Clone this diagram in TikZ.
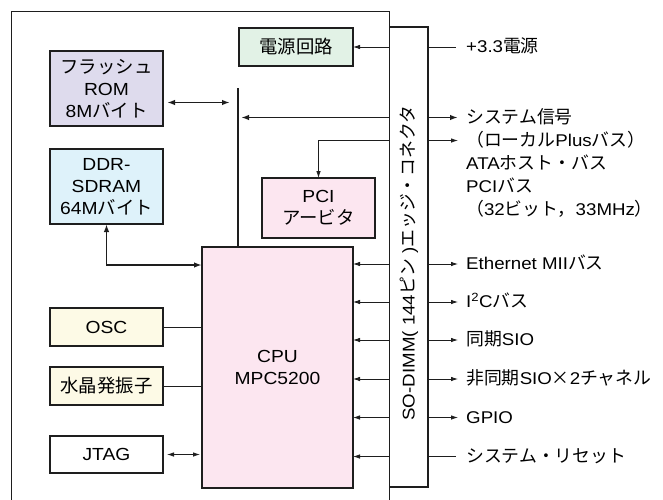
\documentclass[tikz,border=0pt]{standalone}
\usepackage{fontspec}
\setmainfont{Liberation Sans}[FakeStretch=1.1]
\newfontfamily\jp[Scale=1.05]{Noto Sans CJK JP}
\usetikzlibrary{arrows.meta}
\newcommand\J[1]{{\jp #1}}
\definecolor{flashc}{RGB}{222,219,237}
\definecolor{ddrc}{RGB}{222,242,250}
\definecolor{pwrc}{RGB}{226,242,230}
\definecolor{pinkc}{RGB}{252,230,240}
\definecolor{yelc}{RGB}{253,250,230}
\definecolor{linec}{RGB}{30,30,30}
\tikzset{
  box/.style={draw=linec, line width=1.2pt, inner sep=0pt, outer sep=0pt, align=center,
    font=\fontsize{17.5}{22}\selectfont},
  lbl/.style={inner sep=0pt, anchor=west, text height=13pt, text depth=2pt,
    font=\fontsize{17}{23}\selectfont},
  thinln/.style={draw=linec, line width=0.8pt},
  thickln/.style={draw=linec, line width=1.8pt},
  tip/.style={-{Latex[length=7pt,width=4.5pt]}},
  tips/.style={{Latex[length=7pt,width=4.5pt]}-{Latex[length=7pt,width=4.5pt]}},
  bigtips/.style={{Latex[length=8pt,width=5.5pt]}-{Latex[length=8pt,width=5.5pt]}},
  bigtip/.style={-{Latex[length=8pt,width=5.5pt]}},
}
\begin{document}
\begin{tikzpicture}[x=1pt,y=-1pt]
\useasboundingbox (0,0) rectangle (663,499);
% board
\draw[draw=linec, line width=1.2pt] (11.5,500) -- (11.5,11.5) -- (389.5,11.5) -- (389.5,500);
% connector
\node[box, fill=white, minimum width=38.5pt, minimum height=460pt] (conn) at (408.75,257) {};
\node[rotate=90, inner sep=0pt, font=\fontsize{17}{17}\selectfont] (connlbl) at (409,263)
  {SO-DIMM( 144\J{ピン} )\J{エッジ・コネクタ}};
% boxes
\node[box, fill=pwrc, minimum width=114pt, minimum height=38pt] (pwr) at (296,47) {\J{電源回路}};
\node[box, fill=flashc, minimum width=113pt, minimum height=75pt] (flash) at (106.5,88.5)
  {\J{フラッシュ}\\ROM\\8M\J{バイト}};
\node[box, fill=ddrc, minimum width=113pt, minimum height=75pt] (ddr) at (106.5,186.5)
  {DDR-\\SDRAM\\64M\J{バイト}};
\node[box, fill=pinkc, minimum width=113pt, minimum height=60pt] (pci) at (318.5,208)
  {PCI\\\J{アービタ}};
\node[box, fill=pinkc, minimum width=151pt, minimum height=241pt] (cpu) at (277.5,367.5)
  {CPU\\MPC5200};
\node[box, fill=yelc, minimum width=113pt, minimum height=38pt] (osc) at (106.5,327) {OSC};
\node[box, fill=yelc, minimum width=113pt, minimum height=38pt] (xtal) at (106.5,386) {\J{水晶発振子}};
\node[box, fill=white, minimum width=113pt, minimum height=37pt] (jtag) at (106.5,454.5) {JTAG};
% bus
\coordinate (bustop) at (238,88);
\draw[thickln] (bustop) -- (bustop |- cpu.north);
% right labels
\node[lbl] (p33) at (466,47) {+3.3\J{電源}};
\node[lbl] (sys) at (466,117.5) {\J{システム信号}};
\node[lbl] (loc) at (466,140.5) {\J{（ローカル}Plus\J{バス）}};
\node[lbl] (ata) at (466,163.5) {ATA\J{ホスト・バス}};
\node[lbl] (pcib) at (466,186.5) {PCI\J{バス}};
\node[lbl] (pcis) at (466,209.5) {\J{（}32\J{ビット，}33MHz\J{）}};
\node[lbl] (eth) at (466,264) {Ethernet MII\J{バス}};
\node[lbl] (i2c) at (466,302) {I\textsuperscript{2}C\J{バス}};
\node[lbl] (ssio) at (466,340) {\J{同期}SIO};
\node[lbl] (asio) at (466,379) {\J{非同期}SIO\J{×}2\J{チャネル}};
\node[lbl] (gpio) at (466,417.5) {GPIO};
\node[lbl] (rst) at (466,456.5) {\J{システム・リセット}};
% power
\draw[thinln, tip] (conn.west |- pwr.east) -- (pwr.east);
\draw[thinln, shorten >=10pt] (conn.east |- p33.west) -- (p33.west);
% system signal
\draw[thickln, bigtip, shorten >=3pt] (conn.west |- sys.west) -- (bustop |- sys.west);
\draw[thickln, bigtip, shorten >=8pt] (conn.east |- sys.west) -- (sys.west);
% local bus to PCI arbiter
\draw[thinln, tip] (conn.west |- loc.west) -| (pci.north);
\draw[thinln, tip, shorten >=8pt] (conn.east |- loc.west) -- (loc.west);
% flash
\draw[thickln, bigtips, shorten <=4pt, shorten >=8pt] ([yshift=-14pt]flash.east) -- ([yshift=-14pt]flash.east -| bustop);
% ddr
\draw[thickln, bigtips] (ddr.south) |- ([yshift=-18pt]cpu.north west);
% osc, xtal, jtag
\draw[thinln] (osc.east) -- (osc.east -| cpu.west);
\draw[thinln] (xtal.east) -- (xtal.east -| cpu.west);
\draw[thinln, tips, shorten <=4pt, shorten >=2pt] (jtag.east) -- (jtag.east -| cpu.west);
% cpu signals
\foreach \n in {eth,i2c,ssio,asio,gpio,rst}{
  \draw[thinln, tip] (conn.west |- \n.west) -- (cpu.east |- \n.west);
}
\foreach \n in {eth,i2c,ssio,asio,gpio}{
  \draw[thinln, tip, shorten >=8pt] (conn.east |- \n.west) -- (\n.west);
}
\draw[thinln, shorten >=10pt] (conn.east |- rst.west) -- (rst.west);
\end{tikzpicture}
\end{document}
